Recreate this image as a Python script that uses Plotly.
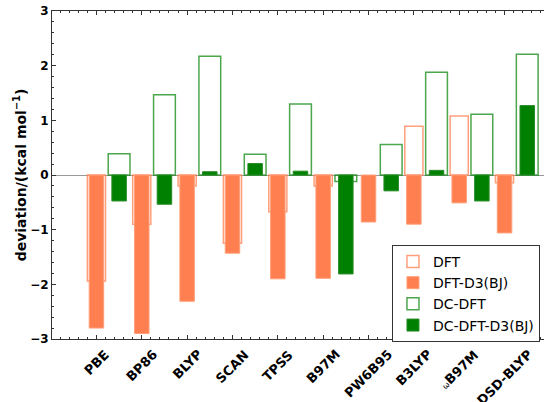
import plotly.graph_objects as go

categories = ["PBE", "BP86", "BLYP", "SCAN", "TPSS", "B97M", "PW6B95", "B3LYP",
              "<span style='font-size:8px;font-weight:normal'>ω</span>B97M", "DSD-BLYP"]
dft = [-1.94, -0.90, -0.20, -1.25, -0.67, -0.20, None, 0.89, 1.08, -0.14]
dft_d3 = [-2.80, -2.90, -2.31, -1.43, -1.90, -1.89, -0.86, -0.90, -0.51, -1.06]
dc_dft = [0.39, 1.47, 2.17, 0.38, 1.30, -0.12, 0.56, 1.88, 1.11, 2.21]
dc_dft_d3 = [-0.475, -0.535, 0.06, 0.21, 0.07, -1.81, -0.29, 0.085, -0.475, 1.27]
y_ticks = [-3, -2, -1, 0, 1, 2, 3]
y_tick_text = ["−3", "−2", "−1", "0", "1", "2", "3"]

idx = list(range(len(categories)))
coral = "#FF7F50"
green = "#008000"

fig = go.Figure()
fig.add_trace(go.Bar(x=idx, y=dft, name="DFT", width=0.4, offset=-0.2,
                     marker=dict(color="rgba(255,255,255,0)",
                                 line=dict(color="rgba(255,127,80,0.75)", width=1.5))))
fig.add_trace(go.Bar(x=idx, y=dft_d3, name="DFT-D3(BJ)", width=0.32, offset=-0.16,
                     marker=dict(color=coral, line=dict(color="rgba(255,160,122,1)", width=1))))
fig.add_trace(go.Bar(x=idx, y=dc_dft, name="DC-DFT", width=0.48, offset=0.26,
                     marker=dict(color="rgba(255,255,255,0)",
                                 line=dict(color="rgba(0,128,0,0.7)", width=1.5))))
fig.add_trace(go.Bar(x=idx, y=dc_dft_d3, name="DC-DFT-D3(BJ)", width=0.32, offset=0.34,
                     marker=dict(color=green, line=dict(color="rgba(40,140,40,1)", width=1))))

# category labels: rotated, bounding box centred under each tick
for i, c in zip(idx, categories):
    fig.add_annotation(x=i, xref="x", y=0, yref="paper", yshift=-5,
                       text="<b>%s</b>" % c, textangle=-45, showarrow=False,
                       xanchor="center", yanchor="top",
                       font=dict(size=13, family="DejaVu Sans", color="black"))

fig.update_layout(
    width=544, height=402,
    margin=dict(l=52, r=0, t=11, b=63),
    barmode="overlay",
    plot_bgcolor="white", paper_bgcolor="white",
    font=dict(family="DejaVu Sans", color="black"),
    showlegend=True,
    legend=dict(x=0.691, y=0.287, xanchor="left", yanchor="top",
                bgcolor="white", bordercolor="#333333", borderwidth=1,
                font=dict(size=14, family="DejaVu Sans"),
                itemwidth=30, tracegroupgap=0),
)
fig.update_xaxes(
    range=[-0.98, 9.87], automargin=False,
    tickmode="array", tickvals=idx, showticklabels=False,
    ticks="inside", ticklen=4, tickcolor="#333",
    showline=True, linecolor="#333", linewidth=1, mirror="ticks",
    showgrid=False, zeroline=False,
    minor=dict(dtick=0.2, tick0=0, ticks="inside", ticklen=2, tickcolor="#333", showgrid=False),
)
fig.update_yaxes(
    range=[-3, 3], automargin=False, tickmode="array", tickvals=y_ticks,
    ticktext=["<b>%s</b>" % t for t in y_tick_text],
    tickfont=dict(size=12, family="DejaVu Sans"),
    ticks="inside", ticklen=4, tickcolor="#333",
    showline=True, linecolor="#333", linewidth=1, mirror=False,
    showgrid=False,
    zeroline=True, zerolinecolor="#999999", zerolinewidth=1,
    minor=dict(dtick=0.2, ticks="inside", ticklen=2, tickcolor="#333", showgrid=False),
    title=dict(text="<b>deviation/(kcal mol<sup>−1</sup>)</b>",
               font=dict(size=14, family="DejaVu Sans"), standoff=0),
)

fig.write_html("out.html")
